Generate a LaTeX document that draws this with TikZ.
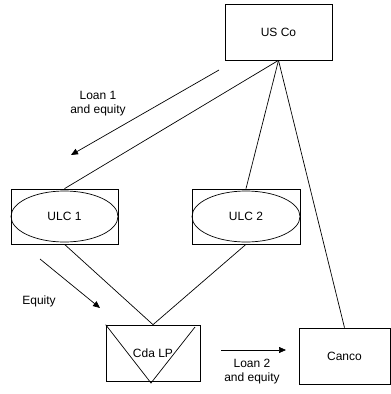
\documentclass[tikz,border=0pt]{standalone}
\usepackage{fontspec}
\setmainfont{Liberation Sans}
\usetikzlibrary{shapes.geometric,arrows.meta}
\begin{document}
\begin{tikzpicture}[x=1pt,y=-1pt,
  every node/.style={font=\fontsize{12}{14}\selectfont},
  ent/.style={draw,line width=0.7pt,inner sep=0pt},
  oval/.style={draw,ellipse,line width=0.7pt,inner sep=0pt},
  link/.style={line width=0.7pt},
  flow/.style={line width=0.7pt,-{Triangle[length=7pt,width=6pt]}},
  lbl/.style={align=center,inner sep=0pt}]
\useasboundingbox (0,0) rectangle (391,394);
% entities
\node[ent,minimum width=107pt,minimum height=56pt] (us) at (278.5,32) {US Co};
\node[ent,minimum width=107pt,minimum height=55pt] (ulc1r) at (64.5,216.5) {};
\node[oval,minimum width=107pt,minimum height=51pt] (ulc1) at (64.5,216.5) {ULC 1};
\node[ent,minimum width=108pt,minimum height=55pt] (ulc2r) at (246,216.5) {};
\node[oval,minimum width=108pt,minimum height=51pt] (ulc2) at (246,216.5) {ULC 2};
\node[ent,minimum width=94pt,minimum height=56pt] (cda) at (153,353) {Cda LP};
\node[ent,minimum width=91pt,minimum height=56pt] (canco) at (344.5,356) {Canco};
% ownership lines
\draw[link] (us.south) -- (ulc1r.north);
\draw[link] (us.south) -- (ulc2r.north);
\draw[link] (us.south) -- (canco.north);
\draw[link] (ulc1r.south) -- (cda.north);
\draw[link] (ulc2r.south) -- (cda.north);
% cross marks on Cda LP
\coordinate (vtip) at (151,383);
\coordinate (vright) at (195,327);
\draw[link] (cda.north west) -- (vtip) -- (vright);
% flows
\coordinate (l1s) at (219,70);
\coordinate (l1e) at (71,155);
\draw[flow] (l1s) -- (l1e);
\node[lbl] (l1) at (98,104) {Loan 1\\and equity};
\coordinate (eqs) at (40,259);
\coordinate (eqe) at (100,308);
\draw[flow] (eqs) -- (eqe);
\node[lbl] (eq) at (39,301) {Equity};
\coordinate (l2s) at (221,350);
\coordinate (l2e) at (286,350);
\draw[flow] (l2s) -- (l2e);
\node[lbl] (l2) at (252,371.5) {Loan 2\\and equity};
\end{tikzpicture}
\end{document}
